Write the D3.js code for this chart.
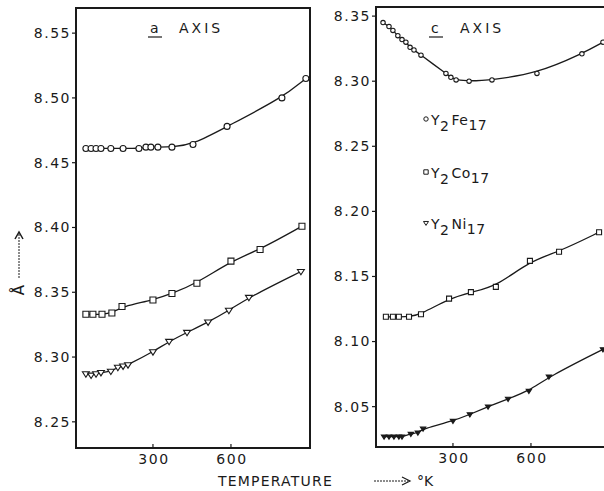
<!DOCTYPE html>
<meta charset="utf-8">
<style>
  body { margin: 0; background: #fff; }
  text { font-family: "DejaVu Sans", sans-serif; fill: #1a1a1a; }
</style>
<svg id="mainsvg" width="604" height="491"></svg>
<script src="https://cdn.jsdelivr.net/npm/d3@7"></script>
<script>

// ---- data (temperature in K, lattice constant in Å)
const feA_T = [42, 62, 81, 100, 138, 185, 246, 273, 292, 319, 373, 454, 585, 796, 888]
const feA_v = [8.461, 8.461, 8.461, 8.461, 8.461, 8.461, 8.461, 8.462, 8.462, 8.462, 8.462, 8.464, 8.478, 8.500, 8.515]

const coA_T = [42, 69, 104, 142, 181, 300, 373, 469, 600, 712, 873]
const coA_v = [8.333, 8.333, 8.333, 8.334, 8.339, 8.344, 8.349, 8.357, 8.374, 8.383, 8.401]

const niA_T = [42, 62, 81, 100, 138, 165, 185, 204, 300, 362, 431, 512, 592, 669, 869]
const niA_v = [8.287, 8.286, 8.287, 8.288, 8.289, 8.292, 8.293, 8.294, 8.304, 8.312, 8.319, 8.327, 8.336, 8.346, 8.366]

const feC_T = [31, 54, 69, 88, 104, 119, 135, 150, 177, 273, 292, 312, 362, 450, 623, 796, 877]
const feC_v = [8.345, 8.342, 8.339, 8.335, 8.332, 8.330, 8.326, 8.324, 8.320, 8.306, 8.303, 8.301, 8.300, 8.301, 8.306, 8.321, 8.330]

const coC_T = [42, 69, 92, 131, 177, 285, 369, 465, 596, 708, 862]
const coC_v = [8.119, 8.119, 8.119, 8.119, 8.121, 8.133, 8.138, 8.142, 8.162, 8.169, 8.184]

const niC_T = [35, 54, 73, 92, 104, 138, 165, 185, 300, 365, 435, 512, 592, 669, 877]
const niC_v = [8.027, 8.027, 8.027, 8.027, 8.027, 8.029, 8.030, 8.033, 8.039, 8.044, 8.050, 8.056, 8.062, 8.073, 8.094]

const xTicks = [300, 600]
const leftYTicks = [8.25, 8.30, 8.35, 8.40, 8.45, 8.50, 8.55]
const rightYTicks = [8.05, 8.10, 8.15, 8.20, 8.25, 8.30, 8.35]

const legendNames = [["Y", "2", "Fe", "17"], ["Y", "2", "Co", "17"], ["Y", "2", "Ni", "17"]]

const svg = d3.select("#mainsvg")
const ink = "#1a1a1a"

function zip(T, v) { return T.map((t, i) => ({t: t, v: v[i]})) }

function panel(box, yDomain, yTicks, title, series) {
  const x = d3.scaleLinear().domain([4, 904]).range([box.x0, box.x1])
  const y = d3.scaleLinear().domain(yDomain).range([box.y1, box.y0])
  const g = svg.append("g")

  g.append("rect")
    .attr("x", box.x0).attr("y", box.y0)
    .attr("width", box.x1 - box.x0).attr("height", box.y1 - box.y0)
    .attr("fill", "none").attr("stroke", ink).attr("stroke-width", 2)

  // y ticks (outward) + labels
  yTicks.forEach(t => {
    g.append("line")
      .attr("x1", box.x0 - 4).attr("x2", box.x0)
      .attr("y1", y(t)).attr("y2", y(t))
      .attr("stroke", ink).attr("stroke-width", 1.2)
    g.append("text")
      .attr("x", box.x0 - 5).attr("y", y(t)).attr("dy", "0.35em")
      .attr("text-anchor", "end")
      .style("font-size", "14px").style("letter-spacing", "1.5px")
      .text(t.toFixed(2))
  })

  // x ticks (inward) + labels
  xTicks.forEach(t => {
    g.append("line")
      .attr("x1", x(t)).attr("x2", x(t))
      .attr("y1", box.y1).attr("y2", box.y1 - 4)
      .attr("stroke", ink).attr("stroke-width", 1.2)
    g.append("text")
      .attr("x", x(t) + 1).attr("y", box.y1 + 16)
      .attr("text-anchor", "middle")
      .style("font-size", "14px").style("letter-spacing", "1.5px")
      .text(t)
  })

  // title: underlined letter + AXIS
  g.append("text")
    .attr("x", title.x).attr("y", 33)
    .style("font-size", "14px")
    .text(title.letter)
  g.append("line")
    .attr("x1", title.x - 2).attr("x2", title.x + 12)
    .attr("y1", 37).attr("y2", 37)
    .attr("stroke", ink).attr("stroke-width", 1.2)
  g.append("text")
    .attr("x", title.x + 29).attr("y", 33)
    .style("font-size", "14px").style("letter-spacing", "3px")
    .text("AXIS")

  const line = d3.line()
    .x(d => x(d.t)).y(d => y(d.v))
    .curve(d3.curveBasis)

  series.forEach(s => {
    g.append("path")
      .datum(s.data)
      .attr("d", line)
      .attr("fill", "none").attr("stroke", ink).attr("stroke-width", 1.3)

    const pts = g.append("g").selectAll("path")
      .data(s.data).enter().append("path")
      .attr("transform", d => `translate(${x(d.t)},${y(d.v)})`)
      .attr("d", marker(s.shape, s.size))
      .attr("fill", s.filled ? ink : "#fff")
      .attr("stroke", ink).attr("stroke-width", 1.1)
  })
  return {x, y}
}

function marker(shape, s) {
  if (shape === "circle") return d3.symbol(d3.symbolCircle, Math.PI * s * s)()
  if (shape === "square") return `M${-s},${-s}H${s}V${s}H${-s}Z`
  // downward triangle
  return `M${-s * 1.15},${-s * 0.7}L${s * 1.15},${-s * 0.7}L0,${s * 1.1}Z`
}

panel({x0: 76, x1: 310, y0: 8, y1: 448}, [8.2298, 8.5694], leftYTicks,
  {letter: "a", x: 150},
  [
    {data: zip(feA_T, feA_v), shape: "circle", size: 3},
    {data: zip(coA_T, coA_v), shape: "square", size: 3},
    {data: zip(niA_T, niA_v), shape: "tri", size: 3}
  ])

panel({x0: 376, x1: 610, y0: 7, y1: 447}, [8.019, 8.357], rightYTicks,
  {letter: "c", x: 431},
  [
    {data: zip(feC_T, feC_v), shape: "circle", size: 2.2},
    {data: zip(coC_T, coC_v), shape: "square", size: 2.5},
    {data: zip(niC_T, niC_v), shape: "tri", size: 2.3, filled: true}
  ])

// legend
const legShapes = ["circle", "square", "tri"]
const legY = [125, 178, 229]
legendNames.forEach((n, i) => {
  svg.append("path")
    .attr("transform", `translate(426,${legY[i] - 6})`)
    .attr("d", marker(legShapes[i], 2.2))
    .attr("fill", "#fff").attr("stroke", ink).attr("stroke-width", 1)
  const t = svg.append("text")
    .attr("x", 431).attr("y", legY[i])
    .style("font-size", "14px").style("letter-spacing", "0.5px")
  t.append("tspan").text(n[0])
  t.append("tspan").attr("dy", 6).text(n[1])
  t.append("tspan").attr("dy", -6).attr("dx", 2).text(n[2])
  t.append("tspan").attr("dy", 5).text(n[3])
})

// axis titles
svg.append("text")
  .attr("x", 218).attr("y", 486)
  .style("font-size", "14px").style("letter-spacing", "1.2px")
  .text("TEMPERATURE")
svg.append("line")
  .attr("x1", 374).attr("x2", 408).attr("y1", 481).attr("y2", 481)
  .attr("stroke", ink).attr("stroke-width", 1).attr("stroke-dasharray", "2,1")
svg.append("path")
  .attr("d", "M402,477L410,481L402,485")
  .attr("fill", "none").attr("stroke", ink).attr("stroke-width", 1.2)
svg.append("text")
  .attr("x", 417).attr("y", 486)
  .style("font-size", "14px")
  .text("°K")

// Å with upward dotted arrow
svg.append("line")
  .attr("x1", 19).attr("x2", 19).attr("y1", 234).attr("y2", 278)
  .attr("stroke", ink).attr("stroke-width", 1).attr("stroke-dasharray", "2,1")
svg.append("path")
  .attr("d", "M15,239L19,232L23,239")
  .attr("fill", "none").attr("stroke", ink).attr("stroke-width", 1.5)
svg.append("text")
  .attr("transform", "translate(24,290) rotate(-90)")
  .attr("text-anchor", "middle")
  .style("font-size", "15px")
  .text("Å")

</script>
